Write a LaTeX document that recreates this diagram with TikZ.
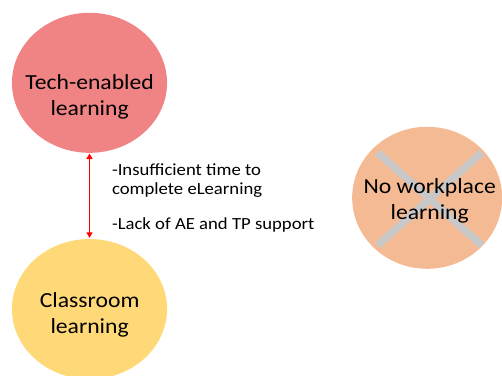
\documentclass[tikz,border=0pt]{standalone}
\usepackage{fontspec}
\setmainfont[FakeStretch=1.1]{Carlito}
\usepackage{tikz}
\usetikzlibrary{arrows.meta,positioning,shapes.geometric}

\definecolor{techred}{RGB}{240,131,131}
\definecolor{classyellow}{RGB}{255,217,120}
\definecolor{noworkorange}{RGB}{244,186,148}
\definecolor{crossgray}{RGB}{200,200,200}

\begin{document}
\begin{tikzpicture}[
    blob/.style={ellipse, inner sep=0pt, minimum width=5.45cm, minimum height=4.92cm},
    blobtext/.style={align=center, inner sep=0pt, font=\fontsize{21.5}{26}\selectfont},
    note/.style={align=left, inner sep=0pt, font=\fontsize{17}{19.4}\selectfont},
    gap/.style={{Triangle[length=5.5pt,width=6pt]}-{Triangle[length=5.5pt,width=6pt]}, line width=1.8pt, red, shorten <=0.5pt, shorten >=1pt},
    strike/.style={line width=7.5pt, crossgray}
  ]
    \useasboundingbox (0,0) rectangle (17.64,13.21);

    \node[blob, fill=techred] (tech) at (3.145,10.30) {};
    \node[blob, fill=classyellow] (class) at (3.145,2.35) {};
    \node[blob, fill=noworkorange, minimum width=5.27cm, minimum height=4.99cm] (nowork) at (15.01,6.26) {};

    % crossed out
    \draw[strike] (13.27,7.85) -- (16.93,4.59);
    \draw[strike] (16.93,7.85) -- (13.27,4.59);

    \node[blobtext] (techtxt) at (3.15,9.82) {Tech-enabled\\learning};
    \node[blobtext] (classtxt) at (3.15,2.16) {Classroom\\learning};
    \node[blobtext] (noworktxt) at (15.10,6.14) {No workplace\\learning};

    \draw[gap] (tech) -- (class);

    \node[note, anchor=north west] (reason1) at (3.93,7.46) {-Insufficient time to\\complete eLearning};
    \node[note, anchor=base west] (reason2) at (3.93,5.13) {-Lack of AE and TP support};
\end{tikzpicture}
\end{document}
